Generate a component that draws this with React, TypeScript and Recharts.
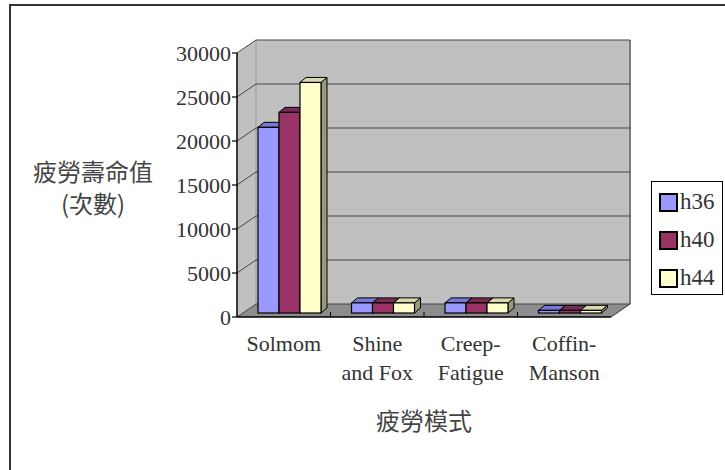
import React from 'react';
import { BarChart, Bar, XAxis, YAxis, CartesianGrid, Legend } from 'recharts';

// chart values
const categories = ['Solmom', 'Shine and Fox', 'Creep-Fatigue', 'Coffin-Manson'];
const categoryLines = [['Solmom'], ['Shine', 'and Fox'], ['Creep-', 'Fatigue'], ['Coffin-', 'Manson']];
const h36 = [21100, 1150, 1150, 300];
const h40 = [22800, 1150, 1150, 300];
const h44 = [26200, 1150, 1150, 300];
const yTicks = [0, 5000, 10000, 15000, 20000, 25000, 30000];

const series = [
  { key: 'h36', front: '#9999FF', top: '#7777d6', side: '#6a6ab0' },
  { key: 'h40', front: '#993366', top: '#7a2952', side: '#662244' },
  { key: 'h44', front: '#FFFFCC', top: '#d8d8ac', side: '#99997a' },
];

const data = categories.map((name, i) => ({ name, h36: h36[i], h40: h40[i], h44: h44[i] }));

// layout of the fake 3D box
const W = 725;
const H = 470;
const PL = 237;
const PT = 53;
const PR = 611;
const PB = 317;
const DX = 19;
const DY = -13;
const BAND = (PR - PL) / categories.length;

const SERIF = '"Liberation Serif", "Times New Roman", serif';
const CJK = '"Noto Sans CJK TC", "Noto Sans CJK SC", sans-serif';

// bar sits a bit into the depth, with its own top and side faces
const BAR_OX = 6;
const BAR_OY = -4;
const BAR_DX = 6;
const BAR_DY = -5;

const makeShape = (front: string, top: string, side: string) => (props: any) => {
  const { x, y, width, height } = props;
  if (width == null || height == null) return <g />;
  const x0 = x + BAR_OX;
  const y0 = y + BAR_OY;
  const x1 = x0 + width;
  const y1 = y0 + height;
  return (
    <g>
      <polygon
        points={`${x1},${y0} ${x1 + BAR_DX},${y0 + BAR_DY} ${x1 + BAR_DX},${y1 + BAR_DY} ${x1},${y1}`}
        fill={side}
        stroke="#000"
        strokeWidth={1}
      />
      <polygon
        points={`${x0},${y0} ${x0 + BAR_DX},${y0 + BAR_DY} ${x1 + BAR_DX},${y0 + BAR_DY} ${x1},${y0}`}
        fill={top}
        stroke="#000"
        strokeWidth={1}
      />
      <rect x={x0} y={y0} width={width} height={height} fill={front} stroke="#000" strokeWidth={1.2} />
    </g>
  );
};

const GridLine = (props: any) => {
  const { x1, x2, y1 } = props;
  return (
    <g>
      <line x1={x1} y1={y1} x2={x1 + DX} y2={y1 + DY} stroke="#444" strokeWidth={1} />
      <line x1={x1 + DX} y1={y1 + DY} x2={x2 + DX} y2={y1 + DY} stroke="#444" strokeWidth={1} />
    </g>
  );
};

const CategoryTick = (props: any) => {
  const { x, payload } = props;
  const idx = categories.indexOf(payload.value);
  const lines = categoryLines[idx] || [payload.value];
  return (
    <g>
      {idx < categories.length - 1 && (
        <line x1={x + BAND / 2} y1={PB} x2={x + BAND / 2} y2={PB - 5} stroke="#000" strokeWidth={1} />
      )}
      <text x={x} y={PB + 34} textAnchor="middle" fontSize={22} fontFamily={SERIF} fill="#333">
        {lines.map((l, i) => (
          <tspan key={i} x={x} dy={i === 0 ? 0 : 29}>
            {l}
          </tspan>
        ))}
      </text>
    </g>
  );
};

const YTitle = () => (
  <text textAnchor="middle" fontSize={24} fontFamily={CJK} fill="#444">
    <tspan x={93} y={181}>疲勞壽命值</tspan>
    <tspan x={93} y={213}>(次數)</tspan>
  </text>
);

const XTitle = () => (
  <text x={(PL + PR) / 2} y={430} textAnchor="middle" fontSize={24} fontFamily={CJK} fill="#444">
    疲勞模式
  </text>
);

const LegendBox = () => (
  <div
    style={{
      width: 72,
      height: 114,
      border: '1.5px solid #000',
      boxSizing: 'border-box',
      background: '#fff',
      position: 'relative',
    }}
  >
    {series.map((s, i) => (
      <div
        key={s.key}
        style={{ position: 'absolute', left: 7, top: 10 + i * 38, height: 20, display: 'flex', alignItems: 'center' }}
      >
        <span
          style={{ width: 15, height: 15, border: '2.5px solid #000', background: s.front, display: 'inline-block' }}
        />
        <span style={{ marginLeft: 2, fontSize: 23, fontFamily: SERIF, color: '#333', lineHeight: '20px' }}>
          {s.key}
        </span>
      </div>
    ))}
  </div>
);

export default function App() {
  return (
    <div style={{ position: 'absolute', left: 0, top: 0, width: W, height: H, background: '#fff', overflow: 'hidden' }}>
      {/* walls and floor of the 3D box */}
      <svg width={W} height={H} style={{ position: 'absolute', left: 0, top: 0 }}>
        <path d={`M10 ${H} V5 H${W}`} fill="none" stroke="#333" strokeWidth={2} />
        <polygon points={`${PL},${PT} ${PL + DX},${PT + DY} ${PL + DX},${PB + DY} ${PL},${PB}`} fill="#c0c0c0" />
        <rect x={PL + DX} y={PT + DY} width={PR - PL} height={PB - PT} fill="#c0c0c0" />
        <polygon
          points={`${PL},${PB} ${PL + DX},${PB + DY} ${PR + DX},${PB + DY} ${PR},${PB}`}
          fill="#8c8c8c"
        />
        <line x1={PL + DX} y1={PT + DY} x2={PL + DX} y2={PB + DY} stroke="#9a9a9a" strokeWidth={1} />
        <line x1={PR + DX} y1={PT + DY} x2={PR + DX} y2={PB + DY} stroke="#7a7a7a" strokeWidth={2} />
        <line x1={PR} y1={PB} x2={PR + DX} y2={PB + DY} stroke="#333" strokeWidth={1} />
      </svg>
      <div style={{ position: 'absolute', left: 0, top: 0 }}>
        <BarChart
          width={W}
          height={H}
          data={data}
          margin={{ top: PT, right: W - PR, bottom: H - PB - 60, left: PL - 60 }}
          barCategoryGap={15}
          barGap={0}
        >
          <CartesianGrid vertical={false} horizontal={GridLine} />
          <XAxis
            dataKey="name"
            height={60}
            axisLine={{ stroke: '#000', strokeWidth: 1.5 }}
            tickLine={false}
            tick={CategoryTick}
            interval={0}
            label={{ content: XTitle }}
          />
          <YAxis
            width={60}
            domain={[0, 30000]}
            ticks={yTicks}
            interval={0}
            tickSize={5}
            tickMargin={1}
            axisLine={{ stroke: '#000', strokeWidth: 1.5 }}
            tickLine={{ stroke: '#000', strokeWidth: 1.2 }}
            tick={{ fontSize: 22, fontFamily: SERIF, fill: '#333' }}
            label={{ content: YTitle }}
          />
          <Legend
            layout="vertical"
            align="center"
            verticalAlign="middle"
            wrapperStyle={{ left: 651, top: 181, width: 72, height: 114 }}
            content={LegendBox}
          />
          {series.map((s) => (
            <Bar
              key={s.key}
              dataKey={s.key}
              name={s.key}
              fill={s.front}
              isAnimationActive={false}
              shape={makeShape(s.front, s.top, s.side)}
            />
          ))}
        </BarChart>
      </div>
    </div>
  );
}
